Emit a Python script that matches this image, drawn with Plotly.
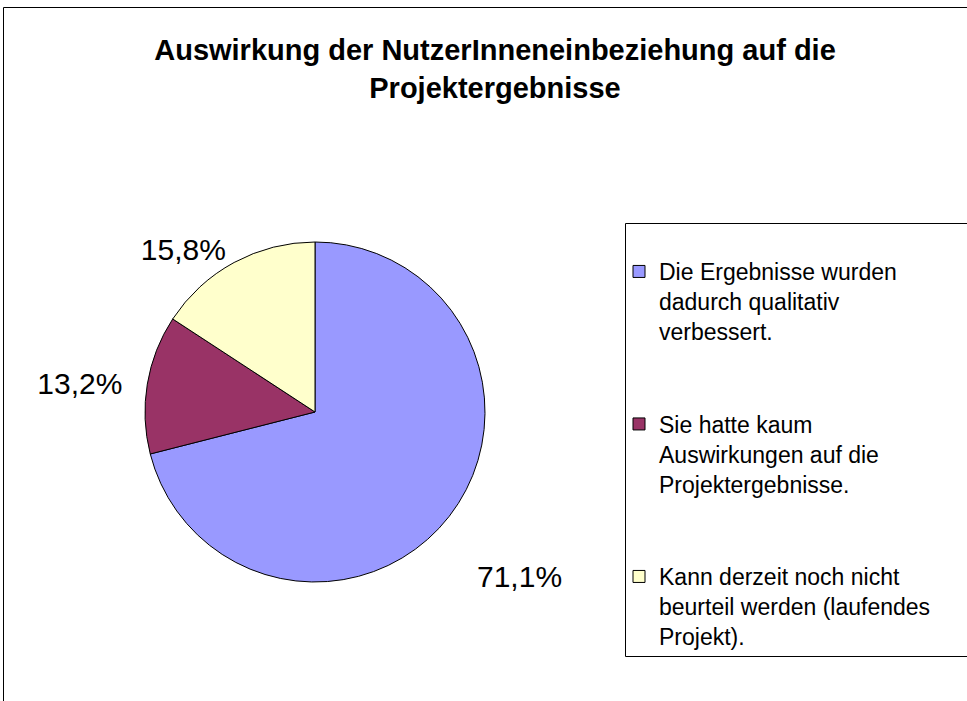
import plotly.graph_objects as go

W, H = 967, 701

labels = [
    "Die Ergebnisse wurden<br>dadurch qualitativ<br>verbessert.",
    "Sie hatte kaum<br>Auswirkungen auf die<br>Projektergebnisse.",
    "Kann derzeit noch nicht<br>beurteil werden (laufendes<br>Projekt).",
]
values = [71.1, 13.2, 15.8]
value_text = ["71,1%", "13,2%", "15,8%"]
colors = ["#9999FF", "#993366", "#FFFFCC"]

FONT = "Liberation Sans, Arial, sans-serif"
NB = "\u00a0"


def px(x):
    return x / W


def py(y):
    return 1 - y / H


# spacer lines between legend entries (not after the last one)
legend_labels = [l + ("<br> <br> " if i < len(labels) - 1 else "") for i, l in enumerate(labels)]

# label placement padding so plotly's outside labels sit where Excel put them
templates = [
    NB + "<br>" + NB + "<br>%{text}",
    "%{text}" + NB + NB,
    "%{text}",
]

fig = go.Figure(
    go.Pie(
        labels=legend_labels,
        values=values,
        text=value_text,
        texttemplate=templates,
        textposition="outside",
        sort=False,
        direction="clockwise",
        rotation=0,
        marker=dict(colors=colors, line=dict(color="black", width=1)),
        textfont=dict(size=30, color="black", family=FONT),
        domain=dict(x=[px(145), px(485)], y=[py(582), py(242)]),
        hoverinfo="label+percent",
    )
)

fig.update_layout(
    width=W,
    height=H,
    margin=dict(l=0, r=0, t=0, b=0),
    paper_bgcolor="white",
    plot_bgcolor="white",
    font=dict(family=FONT, color="black"),
    title=dict(
        text="<b>Auswirkung der NutzerInneneinbeziehung auf die<br>Projektergebnisse</b>",
        x=px(495),
        xanchor="center",
        y=py(60),
        yanchor="top",
        font=dict(size=29, color="black", family=FONT),
    ),
    showlegend=True,
    legend=dict(
        x=px(619),
        y=py(250),
        xanchor="left",
        yanchor="top",
        font=dict(size=23, color="black", family=FONT),
        valign="top",
        bgcolor="rgba(0,0,0,0)",
        borderwidth=0,
        itemwidth=30,
        itemclick=False,
    ),
    shapes=[
        dict(type="rect", xref="paper", yref="paper",
             x0=px(3.5), x1=px(1000), y0=py(720), y1=py(7.5),
             line=dict(color="black", width=1), fillcolor="rgba(0,0,0,0)", layer="below"),
        dict(type="rect", xref="paper", yref="paper",
             x0=px(625.5), x1=px(1000), y0=py(656.5), y1=py(223.5),
             line=dict(color="black", width=1), fillcolor="rgba(0,0,0,0)", layer="below"),
    ],
)

fig.write_html(
    "out.html",
    config={"displayModeBar": False},
    post_script="document.body.style.margin='0';document.body.style.overflow='hidden';",
)
